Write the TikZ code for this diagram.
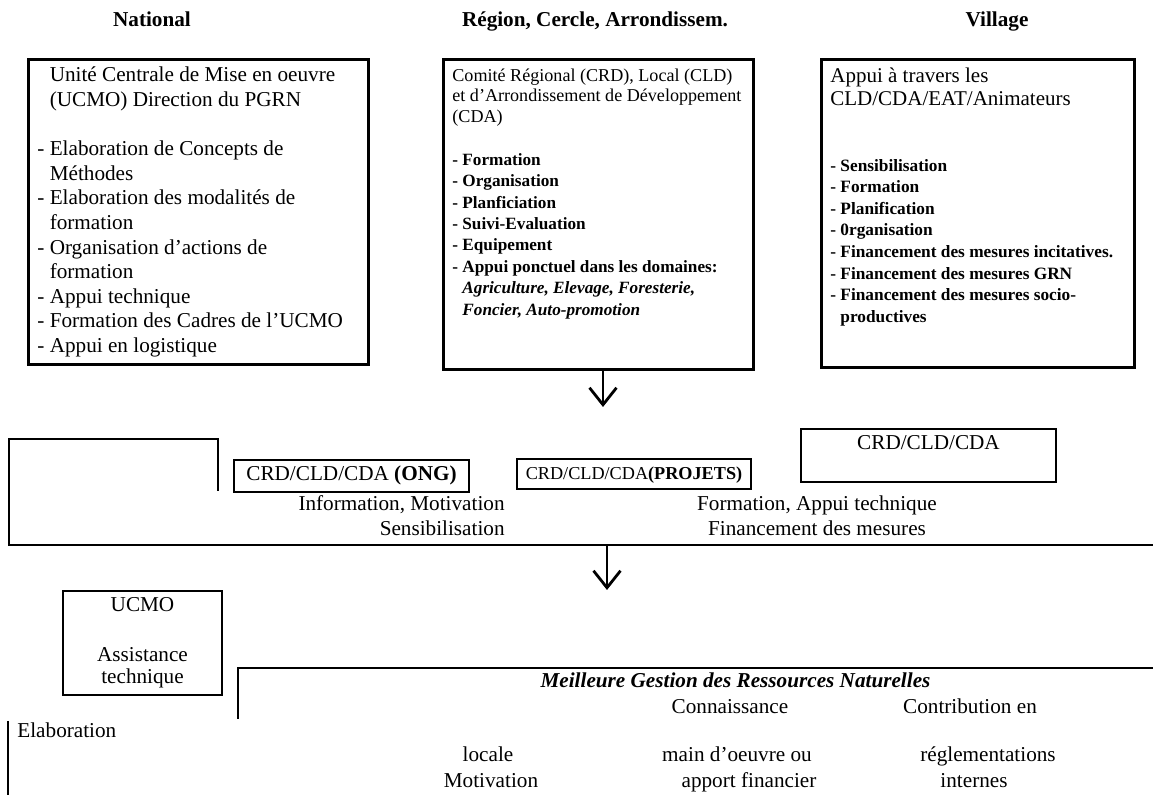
\documentclass[tikz,border=0pt]{standalone}
\usepackage{fontspec}
\setmainfont{Liberation Serif}
\usetikzlibrary{arrows.meta}
\newcommand\fsmain{\fontsize{10.6pt}{12.3pt}\selectfont}
\newcommand\fsband{\fontsize{10.6pt}{12.5pt}\selectfont}
\newcommand\fsreg{\fontsize{9.05pt}{10.25pt}\selectfont}
\newcommand\fsregb{\fontsize{8.6pt}{10.7pt}\selectfont\bfseries}
\newcommand\fsvil{\fontsize{10.5pt}{11.65pt}\selectfont}
\newcommand\fsvilb{\fontsize{8.65pt}{10.8pt}\selectfont\bfseries}
\newcommand\fsproj{\fontsize{9.1pt}{10.5pt}\selectfont}
\newcommand\dashind{\hphantom{- }}

\begin{document}
\begin{tikzpicture}[x=0.5pt,y=-0.5pt,>={Straight Barb[length=8.5pt,width=13.5pt]},
  frame/.style={draw,line width=1.3pt,inner sep=0pt,anchor=north west},
  txt/.style={inner sep=0pt,anchor=north west,align=left},
  tag/.style={draw,line width=1.1pt,inner xsep=0pt,inner ysep=3pt,text height=7.5pt,anchor=base,font=\fsmain},
  lbl/.style={inner sep=0pt,anchor=base,font=\fsmain},
  rule/.style={line width=1.1pt},
  arr/.style={->,line width=1.4pt}]
  \useasboundingbox (0,0) rectangle (1153,795);

  \node[lbl,font=\fsmain\bfseries] (hnat) at (152,27) {National};
  \node[lbl,font=\fsmain\bfseries] (hreg) at (595,27) {Région, Cercle, Arrondissem.};
  \node[lbl,font=\fsmain\bfseries] (hvil) at (997,27) {Village};

  \node[frame,minimum width=170pt,minimum height=152.5pt] (natbox) at (27,58) {};
  \node[txt,font=\fsmain] (nattxt) at (37,64.2) {\strut\dashind Unité Centrale de Mise en oeuvre\\\dashind (UCMO) Direction du PGRN\\[12.3pt]- Elaboration de Concepts de\\\dashind Méthodes\\- Elaboration des modalités de\\\dashind formation\\- Organisation d’actions de\\\dashind formation\\- Appui technique\\- Formation des Cadres de l’UCMO\\- Appui en logistique};

  \node[frame,minimum width=155pt,minimum height=155pt] (regbox) at (442,58) {};
  \node[txt,font=\fsreg] (regtitle) at (452,66.6) {\strut Comité Régional (CRD), Local (CLD)\\et d’Arrondissement de Développement\\(CDA)};
  \node[txt,font=\fsregb] (reglist) at (452,150) {\strut- Formation\\- Organisation\\- Planficiation\\- Suivi-Evaluation\\- Equipement\\- Appui ponctuel dans les domaines:\\\dashind\textit{Agriculture, Elevage, Foresterie,}\\\dashind\textit{Foncier, Auto-promotion}};

  \node[frame,minimum width=156.5pt,minimum height=154pt] (vilbox) at (820,58) {};
  \node[txt,font=\fsvil] (viltitle) at (830,65.4) {\strut Appui à travers les\\CLD/CDA/EAT/Animateurs};
  \node[txt,font=\fsvilb] (villist) at (830,155.6) {\strut- Sensibilisation\\- Formation\\- Planification\\- 0rganisation\\- Financement des mesures incitatives.\\- Financement des mesures GRN\\- Financement des mesures socio-\\\dashind productives};

  \coordinate (down1) at (603,407);
  \draw[arr] (regbox.south -| down1) -- (down1);

  \draw[rule] (218,491) -- (218,439) -- (9,439) -- (9,545) -- (1160,545);
  \node[tag,text depth=2.5pt,minimum width=117.5pt] (ongbox) at (351.5,481) {CRD/CLD/CDA \textbf{(ONG)}};
  \node[tag,text depth=1.5pt,minimum width=117pt,font=\fsproj] (projbox) at (634,480) {CRD/CLD/CDA\textbf{(PROJETS)}};
  \node[tag,text depth=13pt,minimum width=127.5pt] (crdbox) at (928.5,450) {CRD/CLD/CDA};
  \node[txt,anchor=north east,align=right,font=\fsband] (infotxt) at (505,492.5) {\strut Information, Motivation\\Sensibilisation};
  \node[txt,anchor=north,align=center,font=\fsband] (formtxt) at (817,492.5) {\strut Formation, Appui technique\\Financement des mesures};

  \coordinate (bandout) at (607,545);
  \coordinate (down2) at (607,590);
  \draw[arr] (bandout) -- (down2);

  \node[draw,line width=1.3pt,align=center,minimum width=79.5pt,minimum height=52pt,font=\fontsize{10.6pt}{11.3pt}\selectfont] (ucmobox) at (142.5,643) {UCMO\\[13.5pt]Assistance\\technique};

  \draw[rule] (238,719) -- (238,668) -- (1160,668);
  \draw[rule] (8,721) -- (8,800);
  \node[lbl,anchor=base west] (elab) at (17,737.7) {Elaboration};
  \node[lbl,font=\fsmain\bfseries\itshape] (meilleure) at (735.5,688) {Meilleure Gestion des Ressources Naturelles};
  \node[lbl] (connais) at (730,714) {Connaissance};
  \node[lbl] (contrib) at (970,714) {Contribution en};
  \node[lbl] (locale) at (488,762) {locale};
  \node[lbl] (motiv) at (491,787.5) {Motivation};
  \node[lbl] (maindo) at (737,762) {main d’oeuvre ou};
  \node[lbl] (apport) at (749,787.5) {apport financier};
  \node[lbl] (regl) at (988,762) {réglementations};
  \node[lbl] (internes) at (974,787.5) {internes};
\end{tikzpicture}
\end{document}
